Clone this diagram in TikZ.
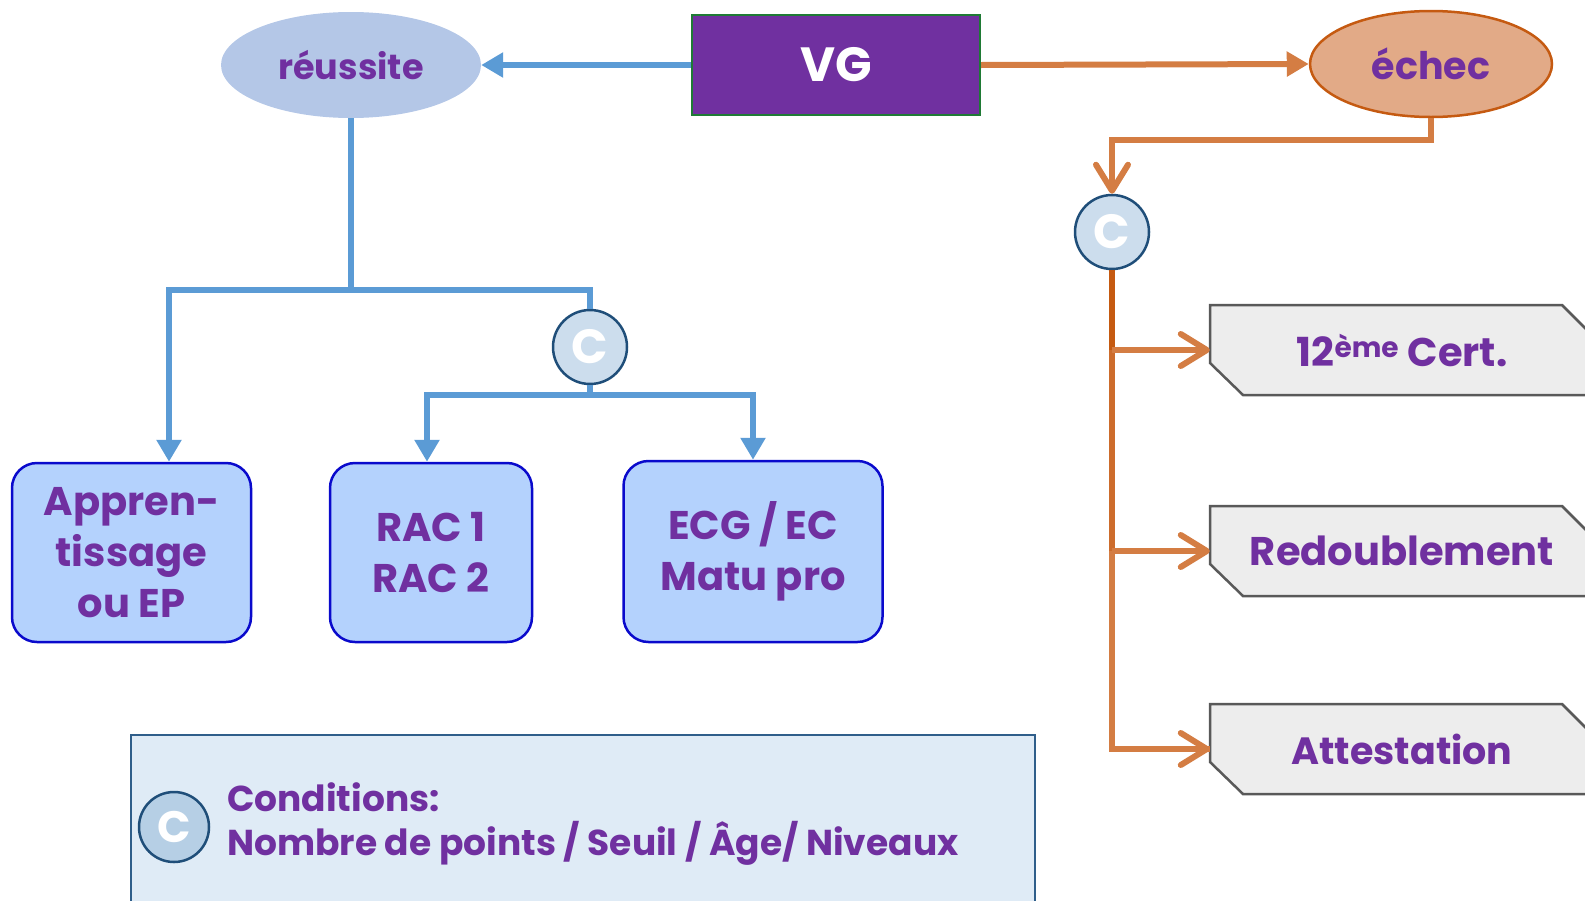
\documentclass[tikz,border=0pt]{standalone}
\usepackage{fontspec}
\setmainfont{Poppins}
\usetikzlibrary{arrows.meta,shapes.geometric}
\definecolor{purp}{HTML}{7030A0}
\definecolor{bluel}{HTML}{5B9BD5}
\definecolor{reufill}{HTML}{B4C7E7}
\definecolor{vggreen}{HTML}{1F7A35}
\definecolor{echfill}{HTML}{E2AA87}
\definecolor{echdraw}{HTML}{C55A11}
\definecolor{orl}{HTML}{D47D43}
\definecolor{ordark}{HTML}{C55A11}
\definecolor{ormid}{HTML}{CD6C2C}
\definecolor{cfill}{HTML}{CCDDED}
\definecolor{cdraw}{HTML}{1F4E79}
\definecolor{boxfill}{HTML}{B4D2FD}
\definecolor{boxdraw}{HTML}{0A0ACC}
\definecolor{gfill}{HTML}{EDEDED}
\definecolor{gdraw}{HTML}{595959}
\definecolor{legfill}{HTML}{DFEBF6}
\definecolor{legdraw}{HTML}{2F5E8A}
\definecolor{legc}{HTML}{B6CFE5}
\tikzset{
  bline/.style={draw=bluel, line width=6pt},
  oline/.style={draw=orl, line width=6pt},
  btri/.style={-{Triangle[length=22pt,width=24pt]}},
  otri/.style={-{Triangle[length=22pt,width=24pt]}},
  obarb/.style={-{Straight Barb[length=26pt,width=32pt,round,line width=6pt]}},
  ptext/.style={text=purp, font=\bfseries\fontsize{40}{51}\selectfont, align=center},
  lbox/.style={ptext, draw=boxdraw, fill=boxfill, line width=2.5pt, rounded corners=25pt, inner sep=0pt},
  cnode/.style={circle, draw=cdraw, fill=cfill, line width=2.5pt, minimum size=74pt, inner sep=0pt, text=white, font=\bfseries\fontsize{48}{48}\selectfont},
  gbox/.style={draw=gdraw, fill=gfill, line width=2.5pt},
  gtext/.style={ptext, font=\bfseries\fontsize{40}{50}\selectfont, minimum width=384pt, minimum height=90pt, inner sep=0pt},
}
\begin{document}
\begin{tikzpicture}[x=1pt,y=-1pt]
\useasboundingbox (0,0) rectangle (1585,900);

% top row
\node[ellipse, fill=reufill, minimum width=260pt, minimum height=106pt, inner sep=0pt,
      text=purp, font=\bfseries\fontsize{35}{35}\selectfont] (reu) at (351,65) {réussite};
\node[rectangle, fill=purp, draw=vggreen, line width=2pt, minimum width=288pt, minimum height=100pt,
      inner sep=0pt, text=white, font=\bfseries\fontsize{48}{48}\selectfont] (vg) at (836,65) {VG};
\node[ellipse, fill=echfill, draw=echdraw, line width=2.5pt, minimum width=242pt, minimum height=106pt,
      inner sep=0pt, text=purp, font=\bfseries\fontsize{38}{38}\selectfont] (ech) at (1431,64) {échec};

\draw[bline, btri] (vg.west) -- (reu.east);
\draw[oline, otri] (vg.east) -- (ech.west);

% left part
\node[lbox, minimum width=239pt, minimum height=179pt] (ap) at (131.5,552.5) {Appren-\\tissage\\ou EP};
\node[lbox, minimum width=202pt, minimum height=179pt] (rac) at (431,552.5) {RAC 1\\RAC 2};
\node[lbox, minimum width=259pt, minimum height=181pt] (ecg) at (753,551.5) {ECG / EC\\Matu pro};
\node[cnode] (cl) at (590,347) {C};

\coordinate (j1) at (351,290);
\draw[bline] (reu.south) -- (j1);
\draw[bline, btri] (j1) -| ([xshift=37.5pt]ap.north);
\draw[bline] (j1) -| (cl.north);
\draw[bline] (cl.south) -- ++(0,10) coordinate (j2);
\draw[bline, btri] (j2) -| ([xshift=-4pt]rac.north);
\draw[bline, btri] (j2) -| (ecg.north);

% right part
\node[cnode] (cr) at (1112,232) {C};
\draw[oline, obarb] (ech.south) -- ++(0,22) -| (cr.north);

\foreach \yc in {350,551,749}{
  \draw[gbox] (1210,\yc-45) -- (1562,\yc-45) -- (1594,\yc-13) -- (1594,\yc+45) -- (1243,\yc+45) -- (1210,\yc+13) -- cycle;
}
\node[gtext] (r1) at (1402,350) {12\textsuperscript{ème} Cert.};
\node[gtext] (r2) at (1402,551) {Redoublement};
\node[gtext, font=\bfseries\fontsize{38}{50}\selectfont] (r3) at (1402,749) {Attestation};

\draw[oline, draw=ordark] (cr.south) -- (cr |- r1.west);
\draw[oline, draw=ormid] (cr |- r1.west) -- (cr |- r2.west);
\draw[oline] (cr |- r2.west) -- (cr |- r3.west) -- (r3.west);
\draw[oline, obarb] (cr |- r1.west) -- (r1.west);
\draw[oline, obarb] (cr |- r2.west) -- (r2.west);
\draw[oline, obarb] ([xshift=-1pt]cr |- r3.west) -- (r3.west);

% legend
\node[draw=legdraw, fill=legfill, line width=2.5pt, minimum width=904pt, minimum height=220pt, inner sep=0pt] (leg) at (583,845) {};
\node[circle, draw=cdraw, fill=legc, line width=2.5pt, minimum size=70pt, inner sep=0pt, text=white,
      font=\bfseries\fontsize{44}{44}\selectfont] (lc) at (174,827) {C};
\node[anchor=base west, inner sep=0pt, text=purp, font=\bfseries\fontsize{36}{44}\selectfont] (cond1) at (227,811) {Conditions:};
\node[anchor=base west, inner sep=0pt, text=purp, font=\bfseries\fontsize{36}{44}\selectfont] (cond2) at (227,855) {Nombre de points / Seuil / Âge/ Niveaux};
\end{tikzpicture}
\end{document}
